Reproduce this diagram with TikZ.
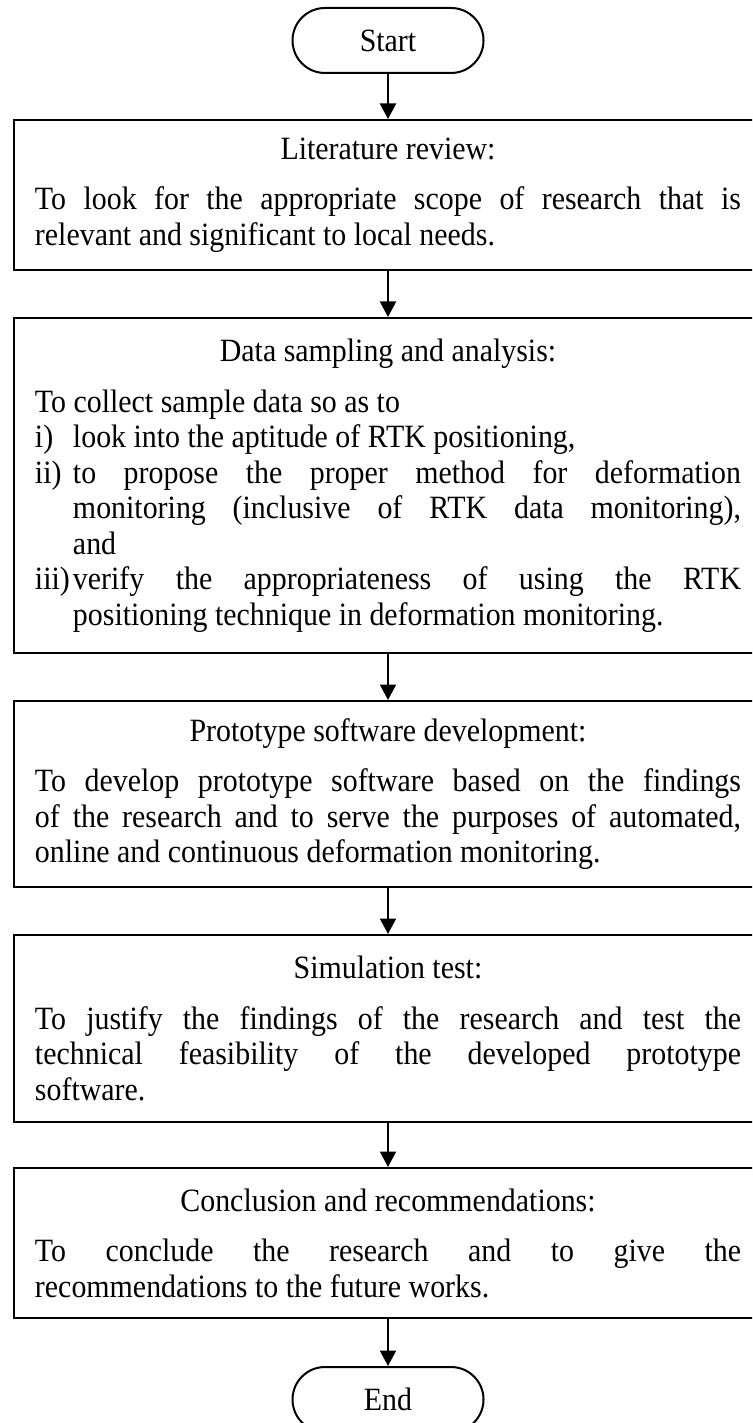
\documentclass[tikz,border=0pt]{standalone}
\usepackage{fontspec}
\setmainfont{Liberation Serif}[FakeStretch=0.92]
\usetikzlibrary{arrows.meta}
\hbadness=10000
\begin{document}
\begin{tikzpicture}[x=0.4pt,y=-0.4pt,
  every node/.style={font=\fontsize{13}{14.2}\selectfont},
  term/.style={draw, line width=0.8pt, rounded corners=13pt, minimum width=76.4pt, minimum height=26pt, inner sep=0pt},
  stage/.style={draw, line width=0.8pt, text width=282.4pt, inner xsep=8.4pt, inner ysep=0pt, align=justify},
  flow/.style={-{Triangle[length=6.2pt,width=6.4pt]}, line width=0.8pt}]
\clip (0,0) rectangle (752,1423);
\fill[white] (0,0) rectangle (752,1423);

\node[term] (start) at (388,40.5) {Start};

\node[stage, minimum height=60pt] (b1) at (388,195) {%
{\centering Literature review:\par}\vspace{6pt}%
\noindent To look for the appropriate scope of research that is\linebreak relevant and significant to local needs.\par};

\node[stage, minimum height=134pt] (b2) at (388,485.5) {%
{\centering Data sampling and analysis:\par}\vspace{6pt}%
\noindent To collect sample data so as to\par
\hangindent=15.2pt\hangafter=1\noindent\makebox[15.2pt][l]{i)}look into the aptitude of RTK positioning,\par
\hangindent=15.2pt\hangafter=1\noindent\makebox[15.2pt][l]{ii)}to propose the proper method for deformation\linebreak monitoring (inclusive of RTK data monitoring),\linebreak and\par
\hangindent=15.2pt\hangafter=1\noindent\makebox[15.2pt][l]{iii)}verify the appropriateness of using the RTK\linebreak positioning technique in deformation monitoring.\par};

\node[stage, minimum height=74.4pt] (b3) at (388,794) {%
{\centering Prototype software development:\par}\vspace{6pt}%
\noindent To develop prototype software based on the findings\linebreak of the research and to serve the purposes of automated,\linebreak online and continuous deformation monitoring.\par};

\node[stage, minimum height=74.8pt] (b4) at (388,1028.5) {%
{\centering Simulation test:\par}\vspace{6pt}%
\noindent To justify the findings of the research and test the\linebreak technical feasibility of the developed prototype\linebreak software.\par};

\node[stage, minimum height=60pt] (b5) at (388,1243) {%
{\centering Conclusion and recommendations:\par}\vspace{6pt}%
\noindent To conclude the research and to give the\linebreak recommendations to the future works.\par};

\node[term] (end) at (388,1399.5) {End};

\draw[flow] (start) -- (b1);
\draw[flow] (b1) -- (b2);
\draw[flow] (b2) -- (b3);
\draw[flow] (b3) -- (b4);
\draw[flow] (b4) -- (b5);
\draw[flow] (b5) -- (end);
\end{tikzpicture}
\end{document}
